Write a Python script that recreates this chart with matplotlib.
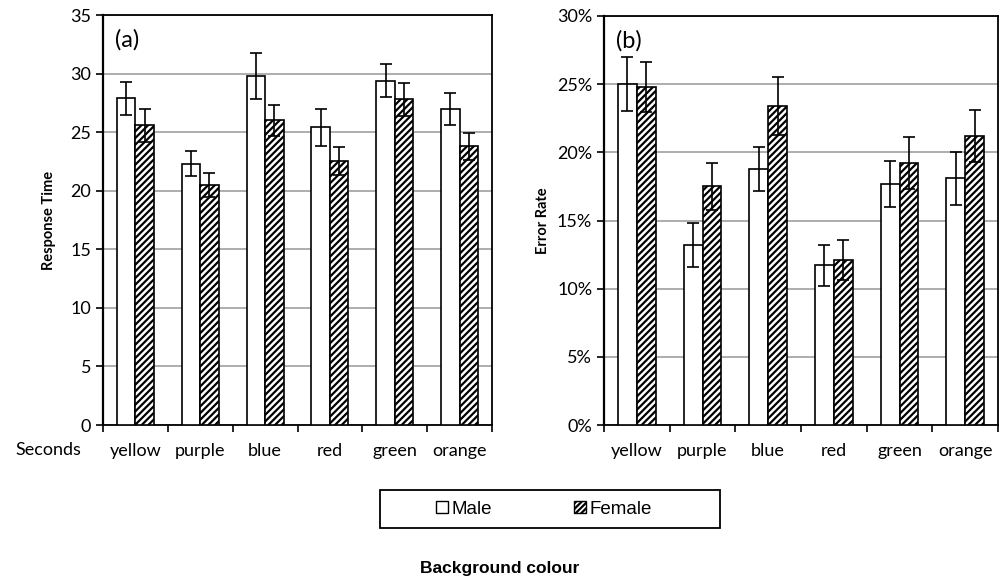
import numpy as np
import matplotlib
matplotlib.use('Agg')
import matplotlib.pyplot as plt
from matplotlib.ticker import FuncFormatter

plt.rcParams['font.family'] = ['Lato', 'DejaVu Sans']
plt.rcParams['hatch.linewidth'] = 1.6

colours = ['yellow', 'purple', 'blue', 'red', 'green', 'orange']

# (a) response time
rt_male = [27.9, 22.3, 29.8, 25.4, 29.4, 27.0]
rt_male_err = [1.4, 1.05, 1.95, 1.6, 1.4, 1.35]
rt_female = [25.6, 20.5, 26.0, 22.5, 27.8, 23.8]
rt_female_err = [1.4, 1.0, 1.3, 1.2, 1.4, 1.15]

# (b) error rate, %
er_male = [25.0, 13.2, 18.8, 11.7, 17.7, 18.1]
er_male_err = [2.0, 1.6, 1.6, 1.5, 1.7, 1.95]
er_female = [24.8, 17.5, 23.4, 12.1, 19.2, 21.2]
er_female_err = [1.85, 1.7, 2.1, 1.5, 1.9, 1.9]

W, H = 1001, 578
fig = plt.figure(figsize=(W/100, H/100), dpi=100)
ax1 = fig.add_axes([103/W, 1-425/H, 389/W, 410/H])
ax2 = fig.add_axes([604/W, 1-425/H, 394/W, 409/H])

x = np.arange(len(colours))
w = 0.285
ekw = dict(ecolor='black', elinewidth=1.2, capsize=4, capthick=1.2)


def draw(ax, m, me, f, fe, ymax, step, label, tag, lpad, fmt=None):
    ax.bar(x - w/2, m, w, yerr=me, color='white', edgecolor='black',
           linewidth=1.2, error_kw=ekw, zorder=3)
    ax.bar(x + w/2, f, w, yerr=fe, color='white', edgecolor='black',
           hatch='/////', linewidth=1.2, error_kw=ekw, zorder=3)
    ax.set_xlim(-0.5, len(colours) - 0.5)
    ax.set_ylim(0, ymax)
    ax.set_yticks(np.arange(0, ymax + 0.01, step))
    if fmt:
        ax.yaxis.set_major_formatter(FuncFormatter(fmt))
    ax.yaxis.grid(True, color='#a0a0a0', linewidth=1.2, zorder=0)
    ax.set_axisbelow(True)
    for s in ['top', 'right']:
        ax.spines[s].set_linewidth(1.3)
    ax.spines['left'].set_linewidth(1.6)
    ax.spines['bottom'].set_linewidth(1.3)
    ax.set_xticks(x)
    ax.set_xticklabels(colours, fontsize=13)
    ax.tick_params(axis='x', length=0, pad=13)
    ax.set_xticks(np.arange(-0.5, len(colours), 1), minor=True)
    ax.tick_params(axis='x', which='minor', length=5, direction='out', width=1.2)
    ax.tick_params(axis='y', labelsize=13, length=5, direction='out', width=1.2)
    ax.set_ylabel(label, fontsize=10.5, fontweight='bold', labelpad=lpad)
    ax.text(0.03, 0.965, tag, transform=ax.transAxes, fontsize=17,
            va='top', ha='left')


draw(ax1, rt_male, rt_male_err, rt_female, rt_female_err, 35, 5,
     'Response Time', '(a)', 10)
draw(ax2, er_male, er_male_err, er_female, er_female_err, 30, 5,
     'Error Rate', '(b)', 5, fmt=lambda v, p: '%d%%' % v)

fig.text(48/W, 1-450/H, 'Seconds', fontsize=13, ha='center', va='center')

# legend box
box = plt.Rectangle((380/W, 1-528/H), 340/W, 38/H, transform=fig.transFigure,
                    facecolor='white', edgecolor='black', linewidth=1.3)
fig.patches.append(box)

h1 = plt.Rectangle((0, 0), 1, 1, facecolor='white', edgecolor='black', linewidth=1)
h2 = plt.Rectangle((0, 0), 1, 1, facecolor='white', edgecolor='black',
                   hatch='//////', linewidth=1)
leg = fig.legend([h1, h2], ['Male', 'Female'], loc='center',
                 bbox_to_anchor=(544/W, 1-509/H), ncol=2,
                 prop={'family': 'Liberation Sans', 'size': 13.5},
                 frameon=False, handlelength=0.6, handleheight=0.6,
                 handletextpad=0.2, columnspacing=4.4)

fig.text(500/W, 1-569/H, 'Background colour', fontsize=12.5,
         fontweight='bold', family='Liberation Sans', ha='center', va='center')

fig.savefig('out.png', dpi=100)
